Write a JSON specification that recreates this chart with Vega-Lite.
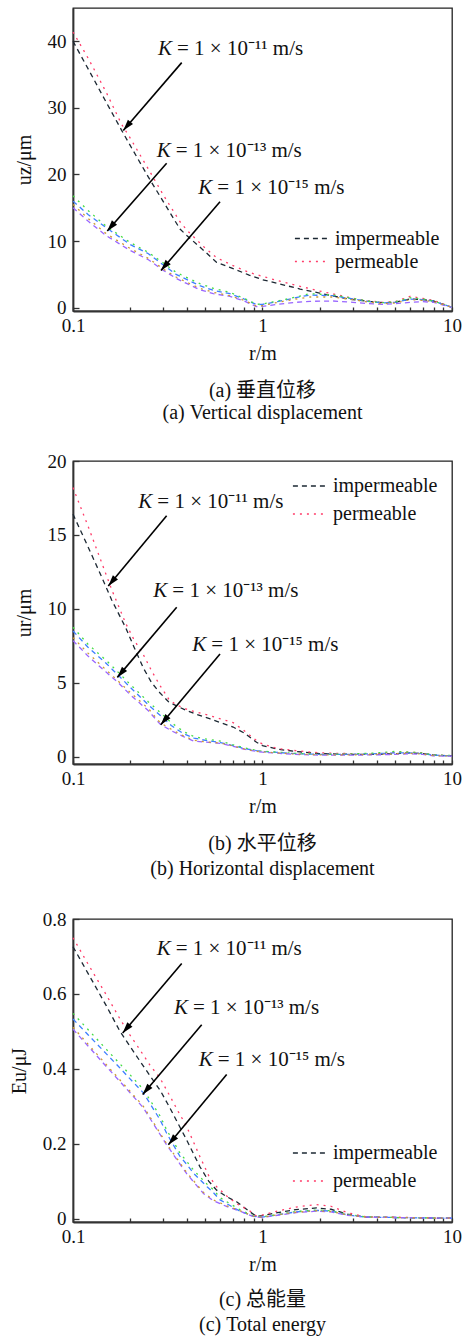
{
  "$schema": "https://vega.github.io/schema/vega-lite/v6.json",
  "padding": {"top": 7, "left": 8, "right": 0, "bottom": 0},
  "background": "white",
  "spacing": 27,
  "datasets": {
    "curves": [
      {"p":"a","s":"imp11","x":0.1,"y":40.0},{"p":"a","s":"imp11","x":0.12,"y":35.9},{"p":"a","s":"imp11","x":0.15,"y":30.8},{"p":"a","s":"imp11","x":0.18,"y":26.7},{"p":"a","s":"imp11","x":0.2,"y":24.4},{"p":"a","s":"imp11","x":0.25,"y":19.6},{"p":"a","s":"imp11","x":0.3,"y":15.9},{"p":"a","s":"imp11","x":0.367,"y":11.8},{"p":"a","s":"imp11","x":0.4,"y":10.8},{"p":"a","s":"imp11","x":0.5,"y":8.35},{"p":"a","s":"imp11","x":0.573,"y":6.8},{"p":"a","s":"imp11","x":0.7,"y":5.85},{"p":"a","s":"imp11","x":0.85,"y":4.9},{"p":"a","s":"imp11","x":1.0,"y":4.2},{"p":"a","s":"imp11","x":1.3,"y":3.4},{"p":"a","s":"imp11","x":1.58,"y":2.8},{"p":"a","s":"imp11","x":2.0,"y":2.2},{"p":"a","s":"imp11","x":2.5,"y":1.6},{"p":"a","s":"imp11","x":3.0,"y":1.2},{"p":"a","s":"imp11","x":3.6,"y":0.95},{"p":"a","s":"imp11","x":4.3,"y":0.75},{"p":"a","s":"imp11","x":5.0,"y":0.8},{"p":"a","s":"imp11","x":6.0,"y":1.3},{"p":"a","s":"imp11","x":7.0,"y":1.2},{"p":"a","s":"imp11","x":8.0,"y":1.0},{"p":"a","s":"imp11","x":9.0,"y":0.5},{"p":"a","s":"imp11","x":10,"y":0.05},
      {"p":"a","s":"perm11","x":0.1,"y":41.4},{"p":"a","s":"perm11","x":0.12,"y":37.5},{"p":"a","s":"perm11","x":0.15,"y":32.3},{"p":"a","s":"perm11","x":0.18,"y":27.6},{"p":"a","s":"perm11","x":0.2,"y":25.5},{"p":"a","s":"perm11","x":0.25,"y":20.8},{"p":"a","s":"perm11","x":0.3,"y":16.9},{"p":"a","s":"perm11","x":0.367,"y":12.9},{"p":"a","s":"perm11","x":0.4,"y":11.6},{"p":"a","s":"perm11","x":0.5,"y":8.9},{"p":"a","s":"perm11","x":0.573,"y":7.5},{"p":"a","s":"perm11","x":0.7,"y":6.3},{"p":"a","s":"perm11","x":0.85,"y":5.3},{"p":"a","s":"perm11","x":1.0,"y":4.7},{"p":"a","s":"perm11","x":1.3,"y":3.8},{"p":"a","s":"perm11","x":1.58,"y":3.2},{"p":"a","s":"perm11","x":2.0,"y":2.5},{"p":"a","s":"perm11","x":2.5,"y":1.9},{"p":"a","s":"perm11","x":3.0,"y":1.4},{"p":"a","s":"perm11","x":3.6,"y":1.05},{"p":"a","s":"perm11","x":4.3,"y":0.8},{"p":"a","s":"perm11","x":5.0,"y":0.9},{"p":"a","s":"perm11","x":6.0,"y":1.7},{"p":"a","s":"perm11","x":7.0,"y":1.4},{"p":"a","s":"perm11","x":8.0,"y":1.1},{"p":"a","s":"perm11","x":9.0,"y":0.55},{"p":"a","s":"perm11","x":10,"y":0.05},
      {"p":"a","s":"imp13","x":0.1,"y":16.0},{"p":"a","s":"imp13","x":0.12,"y":14.0},{"p":"a","s":"imp13","x":0.15,"y":12.0},{"p":"a","s":"imp13","x":0.2,"y":9.5},{"p":"a","s":"imp13","x":0.25,"y":8.1},{"p":"a","s":"imp13","x":0.3,"y":6.4},{"p":"a","s":"imp13","x":0.35,"y":5.0},{"p":"a","s":"imp13","x":0.4,"y":4.2},{"p":"a","s":"imp13","x":0.467,"y":3.3},{"p":"a","s":"imp13","x":0.55,"y":2.6},{"p":"a","s":"imp13","x":0.674,"y":2.1},{"p":"a","s":"imp13","x":0.8,"y":1.3},{"p":"a","s":"imp13","x":0.93,"y":0.45},{"p":"a","s":"imp13","x":1.0,"y":0.5},{"p":"a","s":"imp13","x":1.2,"y":0.9},{"p":"a","s":"imp13","x":1.5,"y":1.5},{"p":"a","s":"imp13","x":1.78,"y":1.9},{"p":"a","s":"imp13","x":2.36,"y":1.8},{"p":"a","s":"imp13","x":3.0,"y":1.3},{"p":"a","s":"imp13","x":3.6,"y":0.95},{"p":"a","s":"imp13","x":4.3,"y":0.7},{"p":"a","s":"imp13","x":5.0,"y":0.8},{"p":"a","s":"imp13","x":6.0,"y":1.3},{"p":"a","s":"imp13","x":7.0,"y":1.2},{"p":"a","s":"imp13","x":8.0,"y":1.0},{"p":"a","s":"imp13","x":9.0,"y":0.5},{"p":"a","s":"imp13","x":10,"y":0.05},
      {"p":"a","s":"perm13","x":0.1,"y":16.8},{"p":"a","s":"perm13","x":0.12,"y":14.6},{"p":"a","s":"perm13","x":0.15,"y":12.2},{"p":"a","s":"perm13","x":0.2,"y":9.8},{"p":"a","s":"perm13","x":0.25,"y":8.3},{"p":"a","s":"perm13","x":0.3,"y":6.7},{"p":"a","s":"perm13","x":0.35,"y":5.3},{"p":"a","s":"perm13","x":0.4,"y":4.5},{"p":"a","s":"perm13","x":0.467,"y":3.6},{"p":"a","s":"perm13","x":0.55,"y":2.9},{"p":"a","s":"perm13","x":0.674,"y":2.3},{"p":"a","s":"perm13","x":0.8,"y":1.4},{"p":"a","s":"perm13","x":0.93,"y":0.5},{"p":"a","s":"perm13","x":1.0,"y":0.55},{"p":"a","s":"perm13","x":1.2,"y":1.0},{"p":"a","s":"perm13","x":1.5,"y":1.6},{"p":"a","s":"perm13","x":1.78,"y":2.1},{"p":"a","s":"perm13","x":2.36,"y":1.9},{"p":"a","s":"perm13","x":3.0,"y":1.4},{"p":"a","s":"perm13","x":3.6,"y":1.0},{"p":"a","s":"perm13","x":4.3,"y":0.75},{"p":"a","s":"perm13","x":5.0,"y":0.85},{"p":"a","s":"perm13","x":6.0,"y":1.5},{"p":"a","s":"perm13","x":7.0,"y":1.3},{"p":"a","s":"perm13","x":8.0,"y":1.0},{"p":"a","s":"perm13","x":9.0,"y":0.5},{"p":"a","s":"perm13","x":10,"y":0.05},
      {"p":"a","s":"imp15","x":0.1,"y":15.0},{"p":"a","s":"imp15","x":0.12,"y":13.0},{"p":"a","s":"imp15","x":0.15,"y":10.8},{"p":"a","s":"imp15","x":0.2,"y":8.6},{"p":"a","s":"imp15","x":0.25,"y":7.2},{"p":"a","s":"imp15","x":0.3,"y":5.6},{"p":"a","s":"imp15","x":0.35,"y":4.4},{"p":"a","s":"imp15","x":0.4,"y":3.6},{"p":"a","s":"imp15","x":0.467,"y":2.7},{"p":"a","s":"imp15","x":0.55,"y":2.1},{"p":"a","s":"imp15","x":0.674,"y":1.7},{"p":"a","s":"imp15","x":0.8,"y":1.0},{"p":"a","s":"imp15","x":0.93,"y":0.15},{"p":"a","s":"imp15","x":1.0,"y":0.2},{"p":"a","s":"imp15","x":1.2,"y":0.5},{"p":"a","s":"imp15","x":1.5,"y":0.8},{"p":"a","s":"imp15","x":1.78,"y":0.95},{"p":"a","s":"imp15","x":2.36,"y":1.0},{"p":"a","s":"imp15","x":3.0,"y":0.8},{"p":"a","s":"imp15","x":3.6,"y":0.6},{"p":"a","s":"imp15","x":4.3,"y":0.5},{"p":"a","s":"imp15","x":5.0,"y":0.6},{"p":"a","s":"imp15","x":6.0,"y":0.8},{"p":"a","s":"imp15","x":7.0,"y":0.9},{"p":"a","s":"imp15","x":8.0,"y":0.8},{"p":"a","s":"imp15","x":9.0,"y":0.4},{"p":"a","s":"imp15","x":10,"y":0.05},
      {"p":"a","s":"perm15","x":0.1,"y":15.5},{"p":"a","s":"perm15","x":0.12,"y":13.4},{"p":"a","s":"perm15","x":0.15,"y":11.1},{"p":"a","s":"perm15","x":0.2,"y":8.9},{"p":"a","s":"perm15","x":0.25,"y":7.4},{"p":"a","s":"perm15","x":0.3,"y":5.8},{"p":"a","s":"perm15","x":0.35,"y":4.6},{"p":"a","s":"perm15","x":0.4,"y":3.8},{"p":"a","s":"perm15","x":0.467,"y":2.9},{"p":"a","s":"perm15","x":0.55,"y":2.3},{"p":"a","s":"perm15","x":0.674,"y":1.8},{"p":"a","s":"perm15","x":0.8,"y":1.1},{"p":"a","s":"perm15","x":0.93,"y":0.25},{"p":"a","s":"perm15","x":1.0,"y":0.3},{"p":"a","s":"perm15","x":1.2,"y":0.8},{"p":"a","s":"perm15","x":1.5,"y":1.3},{"p":"a","s":"perm15","x":1.78,"y":1.6},{"p":"a","s":"perm15","x":2.36,"y":1.6},{"p":"a","s":"perm15","x":3.0,"y":1.2},{"p":"a","s":"perm15","x":3.6,"y":0.85},{"p":"a","s":"perm15","x":4.3,"y":0.6},{"p":"a","s":"perm15","x":5.0,"y":0.7},{"p":"a","s":"perm15","x":6.0,"y":1.2},{"p":"a","s":"perm15","x":7.0,"y":1.1},{"p":"a","s":"perm15","x":8.0,"y":0.9},{"p":"a","s":"perm15","x":9.0,"y":0.45},{"p":"a","s":"perm15","x":10,"y":0.05},

      {"p":"b","s":"imp11","x":0.1,"y":16.4},{"p":"b","s":"imp11","x":0.12,"y":14.2},{"p":"b","s":"imp11","x":0.14,"y":12.3},{"p":"b","s":"imp11","x":0.16,"y":10.6},{"p":"b","s":"imp11","x":0.19,"y":8.7},{"p":"b","s":"imp11","x":0.21,"y":7.4},{"p":"b","s":"imp11","x":0.235,"y":6.0},{"p":"b","s":"imp11","x":0.26,"y":5.0},{"p":"b","s":"imp11","x":0.288,"y":4.3},{"p":"b","s":"imp11","x":0.32,"y":3.7},{"p":"b","s":"imp11","x":0.35,"y":3.45},{"p":"b","s":"imp11","x":0.4,"y":3.1},{"p":"b","s":"imp11","x":0.45,"y":2.85},{"p":"b","s":"imp11","x":0.53,"y":2.55},{"p":"b","s":"imp11","x":0.6,"y":2.3},{"p":"b","s":"imp11","x":0.7,"y":2.0},{"p":"b","s":"imp11","x":0.8,"y":1.6},{"p":"b","s":"imp11","x":0.93,"y":0.97},{"p":"b","s":"imp11","x":1.0,"y":0.75},{"p":"b","s":"imp11","x":1.2,"y":0.5},{"p":"b","s":"imp11","x":1.5,"y":0.35},{"p":"b","s":"imp11","x":2.0,"y":0.2},{"p":"b","s":"imp11","x":3.0,"y":0.15},{"p":"b","s":"imp11","x":4.0,"y":0.15},{"p":"b","s":"imp11","x":5.0,"y":0.2},{"p":"b","s":"imp11","x":6.0,"y":0.25},{"p":"b","s":"imp11","x":7.0,"y":0.2},{"p":"b","s":"imp11","x":8.0,"y":0.1},{"p":"b","s":"imp11","x":10,"y":0.05},
      {"p":"b","s":"perm11","x":0.1,"y":18.2},{"p":"b","s":"perm11","x":0.12,"y":15.6},{"p":"b","s":"perm11","x":0.14,"y":13.3},{"p":"b","s":"perm11","x":0.16,"y":11.3},{"p":"b","s":"perm11","x":0.19,"y":9.0},{"p":"b","s":"perm11","x":0.21,"y":7.9},{"p":"b","s":"perm11","x":0.235,"y":6.9},{"p":"b","s":"perm11","x":0.26,"y":5.8},{"p":"b","s":"perm11","x":0.288,"y":4.8},{"p":"b","s":"perm11","x":0.32,"y":3.9},{"p":"b","s":"perm11","x":0.35,"y":3.5},{"p":"b","s":"perm11","x":0.4,"y":3.2},{"p":"b","s":"perm11","x":0.45,"y":3.0},{"p":"b","s":"perm11","x":0.53,"y":2.77},{"p":"b","s":"perm11","x":0.6,"y":2.55},{"p":"b","s":"perm11","x":0.7,"y":2.3},{"p":"b","s":"perm11","x":0.82,"y":1.65},{"p":"b","s":"perm11","x":0.93,"y":1.08},{"p":"b","s":"perm11","x":1.0,"y":0.85},{"p":"b","s":"perm11","x":1.2,"y":0.55},{"p":"b","s":"perm11","x":1.5,"y":0.4},{"p":"b","s":"perm11","x":2.0,"y":0.25},{"p":"b","s":"perm11","x":3.0,"y":0.2},{"p":"b","s":"perm11","x":4.0,"y":0.2},{"p":"b","s":"perm11","x":5.0,"y":0.3},{"p":"b","s":"perm11","x":6.0,"y":0.3},{"p":"b","s":"perm11","x":7.0,"y":0.25},{"p":"b","s":"perm11","x":8.0,"y":0.1},{"p":"b","s":"perm11","x":10,"y":0.05},
      {"p":"b","s":"imp13","x":0.1,"y":8.5},{"p":"b","s":"imp13","x":0.12,"y":7.4},{"p":"b","s":"imp13","x":0.15,"y":6.3},{"p":"b","s":"imp13","x":0.1734,"y":5.5},{"p":"b","s":"imp13","x":0.2,"y":4.7},{"p":"b","s":"imp13","x":0.25,"y":3.5},{"p":"b","s":"imp13","x":0.288,"y":2.8},{"p":"b","s":"imp13","x":0.33,"y":2.1},{"p":"b","s":"imp13","x":0.383,"y":1.55},{"p":"b","s":"imp13","x":0.435,"y":1.25},{"p":"b","s":"imp13","x":0.5,"y":1.1},{"p":"b","s":"imp13","x":0.6,"y":0.95},{"p":"b","s":"imp13","x":0.7,"y":0.75},{"p":"b","s":"imp13","x":0.8,"y":0.55},{"p":"b","s":"imp13","x":0.93,"y":0.4},{"p":"b","s":"imp13","x":1.0,"y":0.35},{"p":"b","s":"imp13","x":1.5,"y":0.2},{"p":"b","s":"imp13","x":2.0,"y":0.15},{"p":"b","s":"imp13","x":3.0,"y":0.15},{"p":"b","s":"imp13","x":4.0,"y":0.2},{"p":"b","s":"imp13","x":5.0,"y":0.25},{"p":"b","s":"imp13","x":6.0,"y":0.25},{"p":"b","s":"imp13","x":7.0,"y":0.2},{"p":"b","s":"imp13","x":8.0,"y":0.1},{"p":"b","s":"imp13","x":10,"y":0.05},
      {"p":"b","s":"perm13","x":0.1,"y":8.75},{"p":"b","s":"perm13","x":0.12,"y":7.6},{"p":"b","s":"perm13","x":0.15,"y":6.5},{"p":"b","s":"perm13","x":0.1734,"y":5.7},{"p":"b","s":"perm13","x":0.2,"y":4.9},{"p":"b","s":"perm13","x":0.25,"y":3.7},{"p":"b","s":"perm13","x":0.288,"y":3.0},{"p":"b","s":"perm13","x":0.33,"y":2.3},{"p":"b","s":"perm13","x":0.383,"y":1.7},{"p":"b","s":"perm13","x":0.435,"y":1.35},{"p":"b","s":"perm13","x":0.5,"y":1.2},{"p":"b","s":"perm13","x":0.6,"y":1.05},{"p":"b","s":"perm13","x":0.7,"y":0.8},{"p":"b","s":"perm13","x":0.8,"y":0.6},{"p":"b","s":"perm13","x":0.93,"y":0.42},{"p":"b","s":"perm13","x":1.0,"y":0.37},{"p":"b","s":"perm13","x":1.5,"y":0.22},{"p":"b","s":"perm13","x":2.0,"y":0.15},{"p":"b","s":"perm13","x":3.0,"y":0.18},{"p":"b","s":"perm13","x":4.0,"y":0.25},{"p":"b","s":"perm13","x":5.0,"y":0.35},{"p":"b","s":"perm13","x":6.0,"y":0.3},{"p":"b","s":"perm13","x":7.0,"y":0.25},{"p":"b","s":"perm13","x":8.0,"y":0.1},{"p":"b","s":"perm13","x":10,"y":0.08},
      {"p":"b","s":"imp15","x":0.1,"y":7.85},{"p":"b","s":"imp15","x":0.12,"y":6.8},{"p":"b","s":"imp15","x":0.15,"y":5.7},{"p":"b","s":"imp15","x":0.1734,"y":5.0},{"p":"b","s":"imp15","x":0.2,"y":4.2},{"p":"b","s":"imp15","x":0.25,"y":3.1},{"p":"b","s":"imp15","x":0.288,"y":2.2},{"p":"b","s":"imp15","x":0.33,"y":1.75},{"p":"b","s":"imp15","x":0.383,"y":1.35},{"p":"b","s":"imp15","x":0.435,"y":1.05},{"p":"b","s":"imp15","x":0.5,"y":0.98},{"p":"b","s":"imp15","x":0.6,"y":0.9},{"p":"b","s":"imp15","x":0.7,"y":0.7},{"p":"b","s":"imp15","x":0.8,"y":0.5},{"p":"b","s":"imp15","x":0.93,"y":0.35},{"p":"b","s":"imp15","x":1.0,"y":0.3},{"p":"b","s":"imp15","x":1.5,"y":0.15},{"p":"b","s":"imp15","x":2.0,"y":0.1},{"p":"b","s":"imp15","x":3.0,"y":0.1},{"p":"b","s":"imp15","x":4.0,"y":0.12},{"p":"b","s":"imp15","x":5.0,"y":0.15},{"p":"b","s":"imp15","x":6.0,"y":0.2},{"p":"b","s":"imp15","x":7.0,"y":0.15},{"p":"b","s":"imp15","x":8.0,"y":0.05},{"p":"b","s":"imp15","x":10,"y":0.03},
      {"p":"b","s":"perm15","x":0.1,"y":8.05},{"p":"b","s":"perm15","x":0.12,"y":7.0},{"p":"b","s":"perm15","x":0.15,"y":5.85},{"p":"b","s":"perm15","x":0.1734,"y":5.1},{"p":"b","s":"perm15","x":0.2,"y":4.35},{"p":"b","s":"perm15","x":0.25,"y":3.25},{"p":"b","s":"perm15","x":0.288,"y":2.3},{"p":"b","s":"perm15","x":0.33,"y":1.85},{"p":"b","s":"perm15","x":0.383,"y":1.4},{"p":"b","s":"perm15","x":0.435,"y":1.1},{"p":"b","s":"perm15","x":0.5,"y":1.0},{"p":"b","s":"perm15","x":0.6,"y":0.92},{"p":"b","s":"perm15","x":0.7,"y":0.72},{"p":"b","s":"perm15","x":0.8,"y":0.52},{"p":"b","s":"perm15","x":0.93,"y":0.36},{"p":"b","s":"perm15","x":1.0,"y":0.32},{"p":"b","s":"perm15","x":1.5,"y":0.17},{"p":"b","s":"perm15","x":2.0,"y":0.12},{"p":"b","s":"perm15","x":3.0,"y":0.12},{"p":"b","s":"perm15","x":4.0,"y":0.15},{"p":"b","s":"perm15","x":5.0,"y":0.2},{"p":"b","s":"perm15","x":6.0,"y":0.22},{"p":"b","s":"perm15","x":7.0,"y":0.18},{"p":"b","s":"perm15","x":8.0,"y":0.06},{"p":"b","s":"perm15","x":10,"y":0.04},

      {"p":"c","s":"imp11","x":0.1,"y":0.726},{"p":"c","s":"imp11","x":0.12,"y":0.655},{"p":"c","s":"imp11","x":0.15,"y":0.568},{"p":"c","s":"imp11","x":0.177,"y":0.5},{"p":"c","s":"imp11","x":0.2,"y":0.46},{"p":"c","s":"imp11","x":0.226,"y":0.42},{"p":"c","s":"imp11","x":0.26,"y":0.375},{"p":"c","s":"imp11","x":0.288,"y":0.343},{"p":"c","s":"imp11","x":0.325,"y":0.295},{"p":"c","s":"imp11","x":0.36,"y":0.252},{"p":"c","s":"imp11","x":0.398,"y":0.21},{"p":"c","s":"imp11","x":0.467,"y":0.139},{"p":"c","s":"imp11","x":0.52,"y":0.1},{"p":"c","s":"imp11","x":0.573,"y":0.076},{"p":"c","s":"imp11","x":0.65,"y":0.058},{"p":"c","s":"imp11","x":0.73,"y":0.045},{"p":"c","s":"imp11","x":0.86,"y":0.018},{"p":"c","s":"imp11","x":0.93,"y":0.006},{"p":"c","s":"imp11","x":1.0,"y":0.008},{"p":"c","s":"imp11","x":1.2,"y":0.016},{"p":"c","s":"imp11","x":1.5,"y":0.024},{"p":"c","s":"imp11","x":1.93,"y":0.0285},{"p":"c","s":"imp11","x":2.3,"y":0.025},{"p":"c","s":"imp11","x":2.8,"y":0.012},{"p":"c","s":"imp11","x":3.5,"y":0.004},{"p":"c","s":"imp11","x":5,"y":0.003},{"p":"c","s":"imp11","x":7,"y":0.002},{"p":"c","s":"imp11","x":10,"y":0.001},
      {"p":"c","s":"perm11","x":0.1,"y":0.75},{"p":"c","s":"perm11","x":0.12,"y":0.68},{"p":"c","s":"perm11","x":0.15,"y":0.597},{"p":"c","s":"perm11","x":0.177,"y":0.533},{"p":"c","s":"perm11","x":0.2,"y":0.49},{"p":"c","s":"perm11","x":0.226,"y":0.45},{"p":"c","s":"perm11","x":0.2547,"y":0.41},{"p":"c","s":"perm11","x":0.288,"y":0.375},{"p":"c","s":"perm11","x":0.325,"y":0.327},{"p":"c","s":"perm11","x":0.36,"y":0.285},{"p":"c","s":"perm11","x":0.398,"y":0.246},{"p":"c","s":"perm11","x":0.467,"y":0.166},{"p":"c","s":"perm11","x":0.52,"y":0.115},{"p":"c","s":"perm11","x":0.573,"y":0.085},{"p":"c","s":"perm11","x":0.65,"y":0.06},{"p":"c","s":"perm11","x":0.73,"y":0.04},{"p":"c","s":"perm11","x":0.86,"y":0.02},{"p":"c","s":"perm11","x":0.93,"y":0.007},{"p":"c","s":"perm11","x":1.0,"y":0.01},{"p":"c","s":"perm11","x":1.2,"y":0.02},{"p":"c","s":"perm11","x":1.5,"y":0.031},{"p":"c","s":"perm11","x":1.93,"y":0.0376},{"p":"c","s":"perm11","x":2.3,"y":0.033},{"p":"c","s":"perm11","x":2.8,"y":0.016},{"p":"c","s":"perm11","x":3.5,"y":0.005},{"p":"c","s":"perm11","x":5,"y":0.004},{"p":"c","s":"perm11","x":7,"y":0.002},{"p":"c","s":"perm11","x":10,"y":0.001},
      {"p":"c","s":"imp13","x":0.1,"y":0.533},{"p":"c","s":"imp13","x":0.12,"y":0.491},{"p":"c","s":"imp13","x":0.15,"y":0.44},{"p":"c","s":"imp13","x":0.177,"y":0.402},{"p":"c","s":"imp13","x":0.2,"y":0.373},{"p":"c","s":"imp13","x":0.235,"y":0.336},{"p":"c","s":"imp13","x":0.288,"y":0.264},{"p":"c","s":"imp13","x":0.312,"y":0.228},{"p":"c","s":"imp13","x":0.367,"y":0.166},{"p":"c","s":"imp13","x":0.398,"y":0.145},{"p":"c","s":"imp13","x":0.435,"y":0.12},{"p":"c","s":"imp13","x":0.51,"y":0.085},{"p":"c","s":"imp13","x":0.549,"y":0.07},{"p":"c","s":"imp13","x":0.597,"y":0.05},{"p":"c","s":"imp13","x":0.76,"y":0.02},{"p":"c","s":"imp13","x":0.9,"y":0.006},{"p":"c","s":"imp13","x":1.0,"y":0.004},{"p":"c","s":"imp13","x":1.2,"y":0.01},{"p":"c","s":"imp13","x":1.5,"y":0.018},{"p":"c","s":"imp13","x":1.93,"y":0.022},{"p":"c","s":"imp13","x":2.3,"y":0.02},{"p":"c","s":"imp13","x":2.8,"y":0.01},{"p":"c","s":"imp13","x":3.5,"y":0.004},{"p":"c","s":"imp13","x":5,"y":0.003},{"p":"c","s":"imp13","x":7,"y":0.002},{"p":"c","s":"imp13","x":10,"y":0.001},
      {"p":"c","s":"perm13","x":0.1,"y":0.548},{"p":"c","s":"perm13","x":0.12,"y":0.505},{"p":"c","s":"perm13","x":0.15,"y":0.452},{"p":"c","s":"perm13","x":0.177,"y":0.413},{"p":"c","s":"perm13","x":0.2,"y":0.384},{"p":"c","s":"perm13","x":0.235,"y":0.345},{"p":"c","s":"perm13","x":0.288,"y":0.274},{"p":"c","s":"perm13","x":0.312,"y":0.237},{"p":"c","s":"perm13","x":0.367,"y":0.175},{"p":"c","s":"perm13","x":0.398,"y":0.153},{"p":"c","s":"perm13","x":0.435,"y":0.128},{"p":"c","s":"perm13","x":0.51,"y":0.092},{"p":"c","s":"perm13","x":0.549,"y":0.078},{"p":"c","s":"perm13","x":0.597,"y":0.056},{"p":"c","s":"perm13","x":0.76,"y":0.024},{"p":"c","s":"perm13","x":0.9,"y":0.007},{"p":"c","s":"perm13","x":1.0,"y":0.005},{"p":"c","s":"perm13","x":1.2,"y":0.011},{"p":"c","s":"perm13","x":1.5,"y":0.019},{"p":"c","s":"perm13","x":1.93,"y":0.023},{"p":"c","s":"perm13","x":2.3,"y":0.021},{"p":"c","s":"perm13","x":2.8,"y":0.011},{"p":"c","s":"perm13","x":3.5,"y":0.005},{"p":"c","s":"perm13","x":5,"y":0.003},{"p":"c","s":"perm13","x":7,"y":0.002},{"p":"c","s":"perm13","x":10,"y":0.001},
      {"p":"c","s":"imp15","x":0.1,"y":0.506},{"p":"c","s":"imp15","x":0.12,"y":0.461},{"p":"c","s":"imp15","x":0.15,"y":0.406},{"p":"c","s":"imp15","x":0.177,"y":0.366},{"p":"c","s":"imp15","x":0.2,"y":0.336},{"p":"c","s":"imp15","x":0.235,"y":0.296},{"p":"c","s":"imp15","x":0.312,"y":0.197},{"p":"c","s":"imp15","x":0.398,"y":0.12},{"p":"c","s":"imp15","x":0.488,"y":0.067},{"p":"c","s":"imp15","x":0.549,"y":0.048},{"p":"c","s":"imp15","x":0.65,"y":0.032},{"p":"c","s":"imp15","x":0.76,"y":0.02},{"p":"c","s":"imp15","x":0.9,"y":0.005},{"p":"c","s":"imp15","x":1.0,"y":0.003},{"p":"c","s":"imp15","x":1.2,"y":0.009},{"p":"c","s":"imp15","x":1.5,"y":0.016},{"p":"c","s":"imp15","x":1.93,"y":0.02},{"p":"c","s":"imp15","x":2.3,"y":0.018},{"p":"c","s":"imp15","x":2.8,"y":0.009},{"p":"c","s":"imp15","x":3.5,"y":0.004},{"p":"c","s":"imp15","x":5,"y":0.003},{"p":"c","s":"imp15","x":10,"y":0.001},
      {"p":"c","s":"perm15","x":0.1,"y":0.511},{"p":"c","s":"perm15","x":0.12,"y":0.466},{"p":"c","s":"perm15","x":0.15,"y":0.411},{"p":"c","s":"perm15","x":0.177,"y":0.37},{"p":"c","s":"perm15","x":0.2,"y":0.34},{"p":"c","s":"perm15","x":0.235,"y":0.3},{"p":"c","s":"perm15","x":0.312,"y":0.2},{"p":"c","s":"perm15","x":0.398,"y":0.123},{"p":"c","s":"perm15","x":0.488,"y":0.07},{"p":"c","s":"perm15","x":0.549,"y":0.05},{"p":"c","s":"perm15","x":0.65,"y":0.034},{"p":"c","s":"perm15","x":0.76,"y":0.021},{"p":"c","s":"perm15","x":0.9,"y":0.006},{"p":"c","s":"perm15","x":1.0,"y":0.004},{"p":"c","s":"perm15","x":1.2,"y":0.01},{"p":"c","s":"perm15","x":1.5,"y":0.017},{"p":"c","s":"perm15","x":1.93,"y":0.021},{"p":"c","s":"perm15","x":2.3,"y":0.019},{"p":"c","s":"perm15","x":2.8,"y":0.01},{"p":"c","s":"perm15","x":3.5,"y":0.004},{"p":"c","s":"perm15","x":5,"y":0.003},{"p":"c","s":"perm15","x":10,"y":0.001}
    ],
    "notes": [
      {"p":"a","x":0.281,"y":37.9,"label":"= 1 × 10⁻¹¹ m/s"},
      {"p":"a","x":0.2764,"y":22.7,"label":"= 1 × 10⁻¹³ m/s"},
      {"p":"a","x":0.4585,"y":17.0,"label":"= 1 × 10⁻¹⁵ m/s"},
      {"p":"b","x":0.2211,"y":16.85,"label":"= 1 × 10⁻¹¹ m/s"},
      {"p":"b","x":0.2653,"y":10.77,"label":"= 1 × 10⁻¹³ m/s"},
      {"p":"b","x":0.4262,"y":7.16,"label":"= 1 × 10⁻¹⁵ m/s"},
      {"p":"c","x":0.2764,"y":0.703,"label":"= 1 × 10⁻¹¹ m/s"},
      {"p":"c","x":0.341,"y":0.5465,"label":"= 1 × 10⁻¹³ m/s"},
      {"p":"c","x":0.4606,"y":0.4075,"label":"= 1 × 10⁻¹⁵ m/s"}
    ],
    "arrows": [
      {"p":"a","x":0.3747,"y":36.8,"x2":0.1842,"y2":26.6},
      {"p":"a","x":0.312,"y":21.7,"x2":0.1517,"y2":11.5},
      {"p":"a","x":0.5967,"y":15.9,"x2":0.2912,"y2":5.57},
      {"p":"b","x":0.312,"y":16.3,"x2":0.1535,"y2":11.55},
      {"p":"b","x":0.3525,"y":10.1,"x2":0.1714,"y2":5.36},
      {"p":"b","x":0.5967,"y":6.94,"x2":0.2904,"y2":2.16},
      {"p":"c","x":0.3747,"y":0.681,"x2":0.1829,"y2":0.4954},
      {"p":"c","x":0.4776,"y":0.5177,"x2":0.2332,"y2":0.3315},
      {"p":"c","x":0.647,"y":0.385,"x2":0.3186,"y2":0.197}
    ]
  },
  "config": {
    "view": {"stroke": "#222", "strokeWidth": 1.3},
    "axis": {"grid": false, "domainColor": "#333", "domainWidth": 1.8, "tickColor": "#333", "tickWidth": 1.3,
      "labelFont": "Liberation Serif", "labelFontSize": 19, "labelColor": "#111", "labelFlush": false, "labelOverlap": false,
      "titleFont": "Liberation Serif", "titleFontSize": 20, "titleFontWeight": "normal", "titleColor": "#111"},
    "title": {"font": "Liberation Serif, Noto Sans CJK SC", "fontSize": 20, "fontWeight": "normal", "color": "#111", "orient": "bottom", "anchor": "middle", "frame": "group", "offset": 18},
    "legend": {"orient": "none", "title": null,
      "symbolType": "stroke", "symbolSize": 1100, "symbolStrokeWidth": 1.4, "labelFont": "Liberation Serif", "labelFontSize": 20, "labelColor": "#111", "labelOffset": 6, "rowPadding": 0}
  },
  "resolve": {"scale": {"x": "independent", "y": "independent", "color": "independent", "strokeDash": "independent"}, "legend": {"color": "independent", "strokeDash": "independent"}},
  "vconcat": [
    {
      "width": 379, "height": 303,
      "title": {"text": ["(a) 垂直位移", "(a) Vertical displacement"], "lineHeight": 22},
      "layer": [
        {"data": {"name": "curves"}, "transform": [{"filter": "datum.p == 'a'"}],
         "mark": {"type": "line", "strokeWidth": 1.3},
         "encoding": {
           "x": {"field": "x", "type": "quantitative", "scale": {"type": "log", "domain": [0.1, 10], "nice": false}, "title": "r/m",
                 "axis": {"values": [0.1,0.2,0.3,0.4,0.5,0.6,0.7,0.8,0.9,1,2,3,4,5,6,7,8,9,10], "labelExpr": "datum.value == 0.1 ? '0.1' : datum.value == 1 ? '1' : datum.value == 10 ? '10' : ''", "tickSize": -4, "labelPadding": 9, "titlePadding": 8}},
           "y": {"field": "y", "type": "quantitative", "scale": {"domain": [-0.5, 45], "nice": false, "zero": false}, "title": "uz/μm",
                 "axis": {"values": [0,10,20,30,40], "format": "~g", "tickSize": -6, "labelPadding": 13, "titlePadding": 13}},
           "color": {"field": "s", "type": "nominal", "scale": {"domain": ["imp11","perm11","imp13","perm13","imp15","perm15"], "range": ["#1c2833","#ff3d6a","#3d7fff","#44dd44","#9966ff","#cc9933"]},
                     "legend": {"values": ["imp11","perm11"], "labelExpr": "datum.value == 'imp11' ? 'impermeable' : 'permeable'", "legendX": 221, "legendY": 219, "clipHeight": 23}},
           "strokeDash": {"field": "s", "type": "nominal", "scale": {"domain": ["imp11","perm11","imp13","perm13","imp15","perm15"], "range": [[5,4],[2,5],[5,4],[2,5],[5,4],[2,5]]},
                     "legend": {"values": ["imp11","perm11"], "labelExpr": "datum.value == 'imp11' ? 'impermeable' : 'permeable'", "legendX": 221, "legendY": 219, "clipHeight": 23}}
         }},
        {"data": {"name": "arrows"}, "transform": [{"filter": "datum.p == 'a'"}],
         "mark": {"type": "rule", "color": "black", "strokeWidth": 1.6},
         "encoding": {"x": {"field": "x", "type": "quantitative", "scale": {"type": "log"}, "title": "r/m"}, "y": {"field": "y", "type": "quantitative", "title": "uz/μm"}, "x2": {"field": "x2"}, "y2": {"field": "y2"}}},
        {"data": {"name": "arrows"}, "transform": [{"filter": "datum.p == 'a'"}],
         "mark": {"type": "point", "shape": "M0,0L-0.3,1L0.3,1Z", "angle": 220, "filled": true, "color": "black", "size": 500, "opacity": 1},
         "encoding": {"x": {"field": "x2", "type": "quantitative", "scale": {"type": "log"}, "title": "r/m"}, "y": {"field": "y2", "type": "quantitative", "title": "uz/μm"}}},
        {"data": {"name": "notes"}, "transform": [{"filter": "datum.p == 'a'"}],
         "mark": {"type": "text", "text": "K", "align": "left", "baseline": "alphabetic", "font": "Liberation Serif", "fontSize": 21, "fontStyle": "italic", "color": "#111"},
         "encoding": {"x": {"field": "x", "type": "quantitative", "scale": {"type": "log"}, "title": "r/m"}, "y": {"field": "y", "type": "quantitative", "title": "uz/μm"}}},
        {"data": {"name": "notes"}, "transform": [{"filter": "datum.p == 'a'"}],
         "mark": {"type": "text", "align": "left", "baseline": "alphabetic", "font": "Liberation Serif", "fontSize": 21, "dx": 19, "color": "#111"},
         "encoding": {"x": {"field": "x", "type": "quantitative", "scale": {"type": "log"}, "title": "r/m"}, "y": {"field": "y", "type": "quantitative", "title": "uz/μm"}, "text": {"field": "label"}}}
      ]
    },
    {
      "spacing": 29,
      "resolve": {"scale": {"x": "independent", "y": "independent", "color": "independent", "strokeDash": "independent"}, "legend": {"color": "independent", "strokeDash": "independent"}},
      "vconcat": [
        {
          "width": 379, "height": 303,
          "title": {"text": ["(b) 水平位移", "(b) Horizontal displacement"], "lineHeight": 25},
          "layer": [
            {"data": {"name": "curves"}, "transform": [{"filter": "datum.p == 'b'"}],
             "mark": {"type": "line", "strokeWidth": 1.3},
             "encoding": {
               "x": {"field": "x", "type": "quantitative", "scale": {"type": "log", "domain": [0.1, 10], "nice": false}, "title": "r/m",
                     "axis": {"values": [0.1,0.2,0.3,0.4,0.5,0.6,0.7,0.8,0.9,1,2,3,4,5,6,7,8,9,10], "labelExpr": "datum.value == 0.1 ? '0.1' : datum.value == 1 ? '1' : datum.value == 10 ? '10' : ''", "tickSize": -4, "labelPadding": 9, "titlePadding": 8}},
               "y": {"field": "y", "type": "quantitative", "scale": {"domain": [-0.5, 20], "nice": false, "zero": false}, "title": "ur/μm",
                     "axis": {"values": [0,5,10,15,20], "format": "~g", "tickSize": -6, "labelPadding": 13, "titlePadding": 13}},
               "color": {"field": "s", "type": "nominal", "scale": {"domain": ["imp11","perm11","imp13","perm13","imp15","perm15"], "range": ["#1c2833","#ff3d6a","#3d7fff","#44dd44","#9966ff","#cc9933"]},
                         "legend": {"values": ["imp11","perm11"], "labelExpr": "datum.value == 'imp11' ? 'impermeable' : 'permeable'", "legendX": 219, "legendY": 11, "clipHeight": 28}},
               "strokeDash": {"field": "s", "type": "nominal", "scale": {"domain": ["imp11","perm11","imp13","perm13","imp15","perm15"], "range": [[5,4],[2,5],[5,4],[2,5],[5,4],[2,5]]},
                         "legend": {"values": ["imp11","perm11"], "labelExpr": "datum.value == 'imp11' ? 'impermeable' : 'permeable'", "legendX": 219, "legendY": 11, "clipHeight": 28}}
             }},
            {"data": {"name": "arrows"}, "transform": [{"filter": "datum.p == 'b'"}],
             "mark": {"type": "rule", "color": "black", "strokeWidth": 1.6},
             "encoding": {"x": {"field": "x", "type": "quantitative", "scale": {"type": "log"}, "title": "r/m"}, "y": {"field": "y", "type": "quantitative", "title": "ur/μm"}, "x2": {"field": "x2"}, "y2": {"field": "y2"}}},
            {"data": {"name": "arrows"}, "transform": [{"filter": "datum.p == 'b'"}],
             "mark": {"type": "point", "shape": "M0,0L-0.3,1L0.3,1Z", "angle": 220, "filled": true, "color": "black", "size": 500, "opacity": 1},
             "encoding": {"x": {"field": "x2", "type": "quantitative", "scale": {"type": "log"}, "title": "r/m"}, "y": {"field": "y2", "type": "quantitative", "title": "ur/μm"}}},
            {"data": {"name": "notes"}, "transform": [{"filter": "datum.p == 'b'"}],
             "mark": {"type": "text", "text": "K", "align": "left", "baseline": "alphabetic", "font": "Liberation Serif", "fontSize": 21, "fontStyle": "italic", "color": "#111"},
             "encoding": {"x": {"field": "x", "type": "quantitative", "scale": {"type": "log"}, "title": "r/m"}, "y": {"field": "y", "type": "quantitative", "title": "ur/μm"}}},
            {"data": {"name": "notes"}, "transform": [{"filter": "datum.p == 'b'"}],
             "mark": {"type": "text", "align": "left", "baseline": "alphabetic", "font": "Liberation Serif", "fontSize": 21, "dx": 19, "color": "#111"},
             "encoding": {"x": {"field": "x", "type": "quantitative", "scale": {"type": "log"}, "title": "r/m"}, "y": {"field": "y", "type": "quantitative", "title": "ur/μm"}, "text": {"field": "label"}}}
          ]
        },
        {
          "width": 379, "height": 303,
          "title": {"text": ["(c) 总能量", "(c) Total energy"], "lineHeight": 25, "offset": 16},
          "layer": [
            {"data": {"name": "curves"}, "transform": [{"filter": "datum.p == 'c'"}],
             "mark": {"type": "line", "strokeWidth": 1.3},
             "encoding": {
               "x": {"field": "x", "type": "quantitative", "scale": {"type": "log", "domain": [0.1, 10], "nice": false}, "title": "r/m",
                     "axis": {"values": [0.1,0.2,0.3,0.4,0.5,0.6,0.7,0.8,0.9,1,2,3,4,5,6,7,8,9,10], "labelExpr": "datum.value == 0.1 ? '0.1' : datum.value == 1 ? '1' : datum.value == 10 ? '10' : ''", "tickSize": -4, "labelPadding": 9, "titlePadding": 8}},
               "y": {"field": "y", "type": "quantitative", "scale": {"domain": [-0.009, 0.8], "nice": false, "zero": false}, "title": "Eu/μJ",
                     "axis": {"values": [0,0.2,0.4,0.6,0.8], "format": "~g", "tickSize": -6, "labelPadding": 13, "titlePadding": 13}},
               "color": {"field": "s", "type": "nominal", "scale": {"domain": ["imp11","perm11","imp13","perm13","imp15","perm15"], "range": ["#1c2833","#ff3d6a","#3d7fff","#44dd44","#9966ff","#cc9933"]},
                         "legend": {"values": ["imp11","perm11"], "labelExpr": "datum.value == 'imp11' ? 'impermeable' : 'permeable'", "legendX": 219, "legendY": 220, "clipHeight": 28}},
               "strokeDash": {"field": "s", "type": "nominal", "scale": {"domain": ["imp11","perm11","imp13","perm13","imp15","perm15"], "range": [[5,4],[2,5],[5,4],[2,5],[5,4],[2,5]]},
                         "legend": {"values": ["imp11","perm11"], "labelExpr": "datum.value == 'imp11' ? 'impermeable' : 'permeable'", "legendX": 219, "legendY": 220, "clipHeight": 28}}
             }},
            {"data": {"name": "arrows"}, "transform": [{"filter": "datum.p == 'c'"}],
             "mark": {"type": "rule", "color": "black", "strokeWidth": 1.6},
             "encoding": {"x": {"field": "x", "type": "quantitative", "scale": {"type": "log"}, "title": "r/m"}, "y": {"field": "y", "type": "quantitative", "title": "Eu/μJ"}, "x2": {"field": "x2"}, "y2": {"field": "y2"}}},
            {"data": {"name": "arrows"}, "transform": [{"filter": "datum.p == 'c'"}],
             "mark": {"type": "point", "shape": "M0,0L-0.3,1L0.3,1Z", "angle": 220, "filled": true, "color": "black", "size": 500, "opacity": 1},
             "encoding": {"x": {"field": "x2", "type": "quantitative", "scale": {"type": "log"}, "title": "r/m"}, "y": {"field": "y2", "type": "quantitative", "title": "Eu/μJ"}}},
            {"data": {"name": "notes"}, "transform": [{"filter": "datum.p == 'c'"}],
             "mark": {"type": "text", "text": "K", "align": "left", "baseline": "alphabetic", "font": "Liberation Serif", "fontSize": 21, "fontStyle": "italic", "color": "#111"},
             "encoding": {"x": {"field": "x", "type": "quantitative", "scale": {"type": "log"}, "title": "r/m"}, "y": {"field": "y", "type": "quantitative", "title": "Eu/μJ"}}},
            {"data": {"name": "notes"}, "transform": [{"filter": "datum.p == 'c'"}],
             "mark": {"type": "text", "align": "left", "baseline": "alphabetic", "font": "Liberation Serif", "fontSize": 21, "dx": 19, "color": "#111"},
             "encoding": {"x": {"field": "x", "type": "quantitative", "scale": {"type": "log"}, "title": "r/m"}, "y": {"field": "y", "type": "quantitative", "title": "Eu/μJ"}, "text": {"field": "label"}}}
          ]
        }
      ]
    }
  ]
}
